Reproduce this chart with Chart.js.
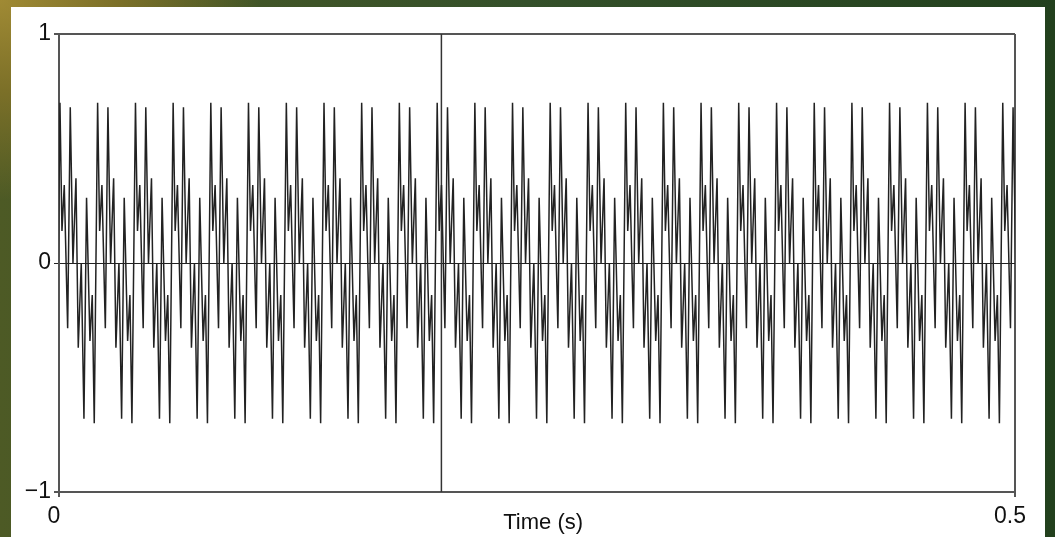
<!DOCTYPE html>
<html>
<head>
<meta charset="utf-8">
<script src="https://cdn.jsdelivr.net/npm/chart.js@4.4.1/dist/chart.umd.min.js"></script>
<style>
  html, body { margin: 0; padding: 0; }
  body {
    width: 1055px; height: 537px; overflow: hidden; position: relative;
    background:
      radial-gradient(ellipse 260px 200px at 0% 0%, #a08a34 0%, #7c7028 45%, rgba(80,90,35,0) 100%),
      linear-gradient(to right, #4d5a25 0%, #34502a 50%, #22401d 100%);
  }
  #panel { position: absolute; left: 11px; top: 7px; width: 1034px; height: 530px; background: #fff; }
</style>
</head>
<body>
<div id="panel"><canvas id="wave" width="1034" height="530"></canvas></div>
<script>
// one cycle of the waveform: offsets (s) from the main peak and values
const cycleOffsets = [0, 0.00105, 0.00225, 0.00403, 0.00539, 0.0068, 0.00837, 0.00957, 0.01114, 0.01255, 0.01391, 0.01569, 0.01689, 0.01794];
const cycleValues = [0.70, 0.14, 0.34, -0.285, 0.68, 0.0, 0.37, -0.37, 0.0, -0.68, 0.285, -0.34, -0.14, -0.70];

// times (s) of the main peaks
const peakTimes = [0.0005, 0.0202, 0.0400, 0.0597, 0.0794, 0.0991, 0.1189, 0.1386, 0.1583,
  0.1780, 0.1978, 0.2175, 0.2372, 0.2569, 0.2767, 0.2964, 0.3161, 0.3358, 0.3555, 0.3753,
  0.3950, 0.4147, 0.4344, 0.4542, 0.4739, 0.4936];

// trough just before the first peak (outside the axis, clipped)
const leadIn = { x: -0.0013, y: -0.70 };

const markerTime = 0.2;
const yTicks = [-1, 0, 1];
const xTicks = [0, 0.5];

let wavePoints = [leadIn];
peakTimes.forEach((t0) => {
  cycleOffsets.forEach((dt, i) => {
    wavePoints.push({ x: t0 + dt, y: cycleValues[i] });
  });
});

const fontFamily = "'Liberation Sans', Arial, Helvetica, sans-serif";

const ctx = document.getElementById("wave");
const chart = new Chart(ctx, {
  type: "line",
  data: {
    datasets: [
      {
        data: wavePoints,
        borderColor: "#222",
        borderWidth: 1.5,
        pointRadius: 0,
        tension: 0,
      },
      {
        data: [{ x: markerTime, y: -1 }, { x: markerTime, y: 1 }],
        borderColor: "#333",
        borderWidth: 1.5,
        pointRadius: 0,
      },
    ],
  },
  options: {
    responsive: false,
    animation: false,
    layout: { padding: { top: 27, right: 30, left: 0, bottom: 0 } },
    plugins: { legend: { display: false }, tooltip: { enabled: false } },
    scales: {
      x: {
        type: "linear",
        min: xTicks[0],
        max: xTicks[1],
        afterBuildTicks: (scale) => { scale.ticks = xTicks.map((v) => ({ value: v })); },
        afterFit: (scale) => { scale.height = 45; },
        ticks: {
          callback: (v) => String(v),
          font: { family: fontFamily, size: 23 },
          color: "#111",
          padding: 6,
          labelOffset: -5,
          maxRotation: 0,
          autoSkip: false,
        },
        grid: { color: "#555", lineWidth: 2, tickLength: 5 },
        border: { color: "#555", width: 2 },
        title: {
          display: true,
          text: "  Time (s)",
          font: { family: fontFamily, size: 22 },
          color: "#111",
          padding: { top: 0, bottom: 1 },
        },
      },
      y: {
        min: -1,
        max: 1,
        afterBuildTicks: (scale) => { scale.ticks = yTicks.map((v) => ({ value: v })); },
        afterFit: (scale) => { scale.width = 48; },
        ticks: {
          callback: (v) => (v < 0 ? "\u2212" + Math.abs(v) : String(v)),
          font: { family: fontFamily, size: 23 },
          color: "#111",
          padding: 3,
        },
        grid: {
          color: (c) => (c.tick && c.tick.value === 0 ? "#222" : "#555"),
          lineWidth: (c) => (c.tick && c.tick.value === 0 ? 1 : 2),
          tickLength: 5,
        },
        border: { color: "#555", width: 2 },
      },
    },
  },
});
</script>
</body>
</html>
